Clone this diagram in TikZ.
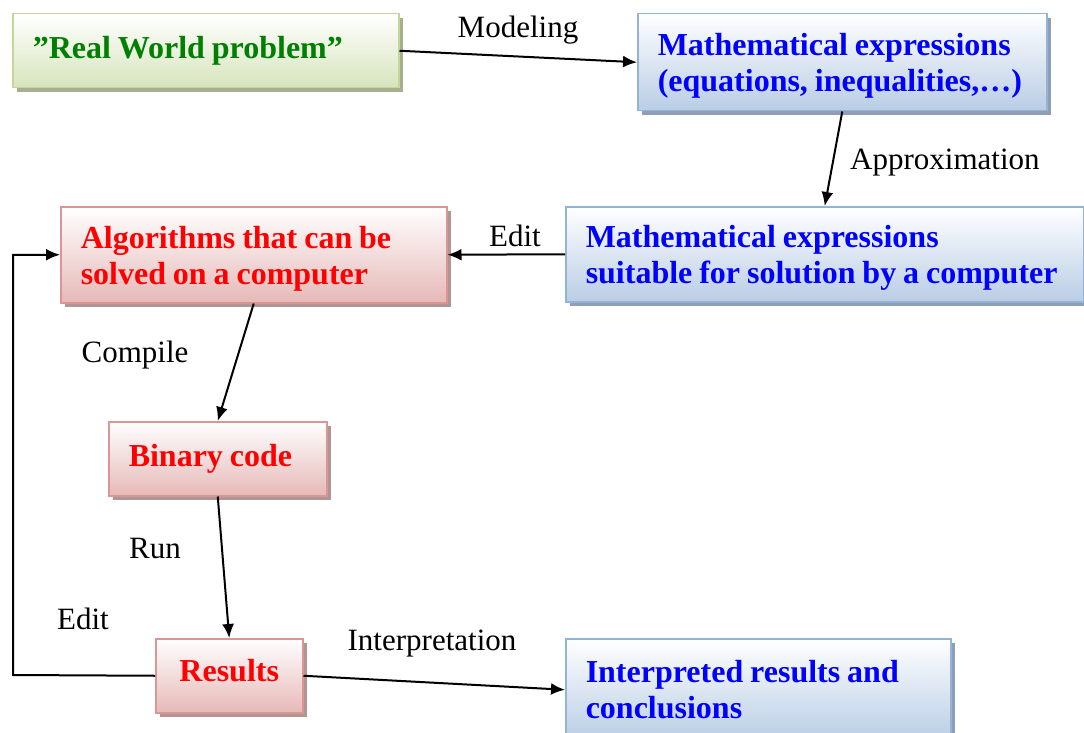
\documentclass[tikz,border=0pt]{standalone}
\usepackage{fontspec}
\setmainfont{Liberation Serif}
\usetikzlibrary{arrows.meta,shadows}
\definecolor{gBorder}{HTML}{C3D69B}
\definecolor{gFill}{HTML}{D7E4BD}
\definecolor{gShadow}{HTML}{A6B08E}
\definecolor{gText}{HTML}{008000}
\definecolor{bBorder}{HTML}{95B3D7}
\definecolor{bFill}{HTML}{B9CDE5}
\definecolor{bShadow}{HTML}{8E9FB5}
\definecolor{bText}{HTML}{0000FF}
\definecolor{rBorder}{HTML}{D99694}
\definecolor{rFill}{HTML}{E6B9B8}
\definecolor{rShadow}{HTML}{B09595}
\definecolor{rText}{HTML}{FF0000}
\newcommand{\downstrut}{\rule{0pt}{30pt}}
\DeclareRobustCommand{\boxfont}{\fontsize{32}{36}\selectfont\bfseries}
\newcommand{\tight}[1]{\mbox{\spaceskip=6.9pt\relax #1}}
\tikzset{
  box/.style={rectangle, anchor=north west, line width=1.5pt, inner xsep=20pt, inner ysep=0pt,
    align=left, font=\boxfont},
  gbox/.style={box, draw=gBorder, top color=white, bottom color=gFill, text=gText,
    general shadow={fill=gShadow, shadow xshift=4pt, shadow yshift=-4pt}},
  bbox/.style={box, draw=bBorder, top color=white, bottom color=bFill, text=bText,
    general shadow={fill=bShadow, shadow xshift=4pt, shadow yshift=-4pt}},
  rbox/.style={box, draw=rBorder, top color=white, bottom color=rFill, text=rText,
    general shadow={fill=rShadow, shadow xshift=4pt, shadow yshift=-4pt}},
  conn/.style={line width=2pt, -{Latex[length=14pt,width=12pt]}},
  lbl/.style={font=\fontsize{31}{36}\selectfont, inner sep=0pt}
}
\begin{document}
\begin{tikzpicture}[x=1pt,y=-1pt]
\useasboundingbox (0,0) rectangle (1084,733);
\node[gbox, minimum width=386pt, minimum height=74pt, text width=346pt] (real) at (12,13) {\tight{”Real World problem”}};
\node[bbox, minimum width=409pt, minimum height=97pt, text width=369pt] (math1) at (637,13) {\tight{\downstrut Mathematical expressions}\\\tight{(equations, inequalities,…)}};
\node[bbox, minimum width=518pt, minimum height=95pt, text width=478pt] (math2) at (565,206) {\tight{\downstrut Mathematical expressions}\\\tight{suitable for solution by a computer}};
\node[rbox, minimum width=386pt, minimum height=96pt, text width=346pt] (alg) at (60,206) {\tight{\downstrut Algorithms that can be}\\\tight{solved on a computer}};
\node[rbox, minimum width=218pt, minimum height=74pt, text width=178pt] (bin) at (108,421) {\tight{Binary code}};
\node[rbox, minimum width=147pt, minimum height=74pt, inner xsep=0pt, text width=147pt, align=center] (res) at (155,638) {Results\rule[-10pt]{0pt}{10pt}};
\node[bbox, minimum width=385pt, minimum height=102pt, text width=345pt] (interp) at (565,638) {\tight{Interpreted results and}\\\tight{conclusions}};

\node[lbl] (lmod) at (518,30) {Modeling};
\node[lbl, anchor=west] (lapp) at (850,163) {Approximation};
\node[lbl] (ledit1) at (515,236) {Edit};
\node[lbl] (lcomp) at (135,355) {Compile};
\node[lbl] (lrun) at (155,548) {Run};
\node[lbl] (ledit2) at (83,619) {Edit};
\node[lbl] (lint) at (432,644) {Interpretation};

\draw[conn] (real.east) -- (math1.west);
\draw[conn] (math1.south) -- (math2.north);
\draw[conn] (math2.west) -- (alg.east);
\draw[conn] (alg.south) -- (bin.north);
\draw[conn] (bin.south) -- (res.north);
\draw[conn] (res.east) -- (interp.west);
\coordinate (loopc) at (13,675);
\draw[conn] (res.west) -- (loopc) |- (alg.west);
\end{tikzpicture}
\end{document}
